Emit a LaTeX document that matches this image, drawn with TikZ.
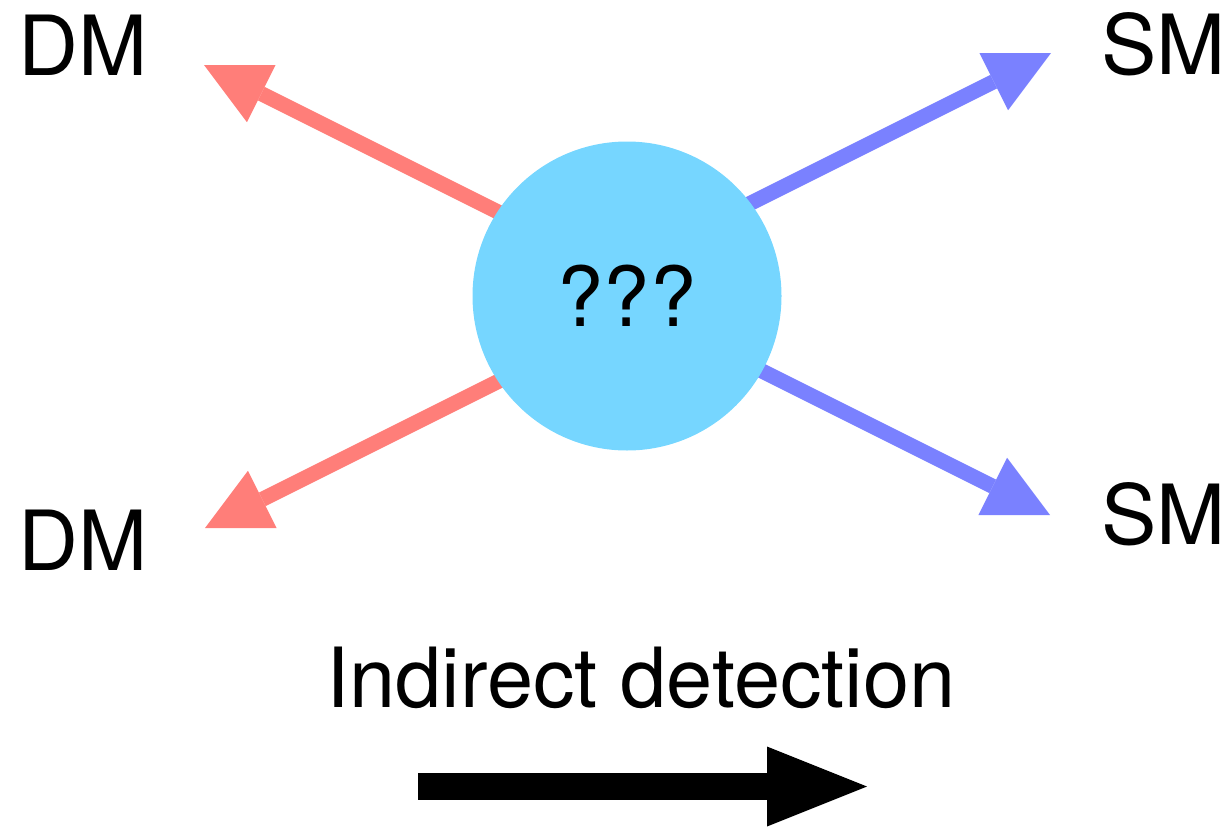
\documentclass[tikz,border=0pt]{standalone}
\usepackage{fontspec}
\setmainfont{TeX Gyre Heros}
\usetikzlibrary{arrows.meta}
\pgfdeclarelayer{background}
\pgfsetlayers{background,main}

\definecolor{salmon}{HTML}{FF7E79}
\definecolor{lavender}{HTML}{7A81FF}
\definecolor{sky}{HTML}{76D6FF}

\tikzset{
  label text/.style={inner sep=0pt, font=\fontsize{83}{90}\selectfont},
  leg/.style={line width=15pt, -{Triangle[length=64pt,width=64pt,line width=0pt]}},
  dmleg/.style={leg, draw=salmon},
  smleg/.style={leg, draw=lavender},
  blob/.style={circle, fill=sky, inner sep=0pt, minimum size=309pt,
               font=\fontsize{83}{90}\selectfont},
  timearrow/.style={line width=27pt, -{Triangle[length=100pt,width=80pt,line width=0pt]}}
}

\begin{document}
\begin{tikzpicture}[x=1pt, y=-1pt]
  \useasboundingbox (0,0) rectangle (1231,827);

  % central interaction blob
  \node[blob] (vertex) at (627,296) {???};

  % inner ends of the four legs (hidden behind the blob)
  \coordinate (dmInA) at (560,243);
  \coordinate (dmInB) at (560,350.5);
  \coordinate (smInA) at (700,228.5);
  \coordinate (smInB) at (700,340);

  % outer tips of the legs
  \coordinate (dmTipA) at (204,65);
  \coordinate (dmTipB) at (205,528);
  \coordinate (smTipA) at (1051,53);
  \coordinate (smTipB) at (1050,515);

  \begin{pgfonlayer}{background}
    \draw[dmleg] (dmInA) -- (dmTipA);
    \draw[dmleg] (dmInB) -- (dmTipB);
    \draw[smleg] (smInA) -- (smTipA);
    \draw[smleg] (smInB) -- (smTipB);
  \end{pgfonlayer}

  % particle labels
  \node[label text, anchor=base west] (dmA) at (18.5,75) {DM};
  \node[label text, anchor=base west] (dmB) at (18.5,570) {DM};
  \node[label text, anchor=base east] (smA) at (1226,74) {SM};
  \node[label text, anchor=base east] (smB) at (1226,544) {SM};

  % caption and direction of the process
  \node[label text, anchor=base] (caption) at (641,707) {Indirect detection};
  \coordinate (timeStart) at (418,786.5);
  \coordinate (timeEnd) at (867,786.5);
  \draw[timearrow] (timeStart) -- (timeEnd);
\end{tikzpicture}
\end{document}
